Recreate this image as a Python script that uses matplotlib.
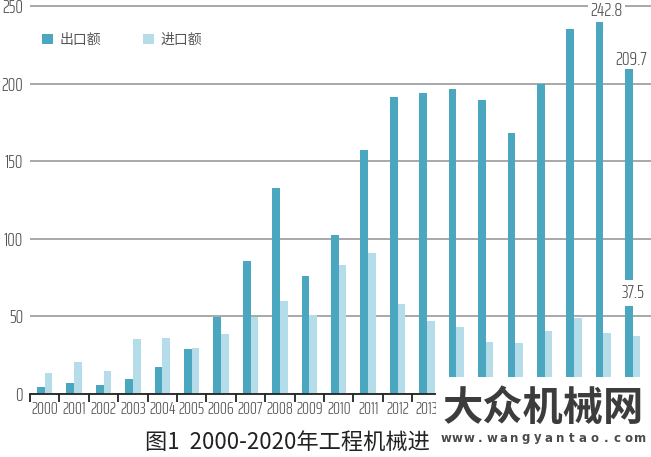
import matplotlib
matplotlib.use('Agg')
import matplotlib.pyplot as plt
from matplotlib.patches import Rectangle
import numpy as np

# data (100 million USD)
years = [str(y) for y in range(2000, 2021)]
export_vals = [4.3, 7.3, 6.0, 9.7, 17.6, 28.8, 49.8, 85.9, 132.7, 76.0, 102.7,
               157.2, 191.2, 194.1, 196.5, 189.6, 168.4, 199.7, 235.0, 242.8, 209.7]
import_vals = [13.3, 20.6, 15.0, 35.2, 36.3, 29.8, 38.7, 49.4, 59.9, 50.7, 82.9,
               90.6, 58.2, 46.8, 43.0, 33.5, 32.6, 40.6, 49.2, 39.5, 37.5]
yticks = [0, 50, 100, 150, 200, 250]
series_names = ['出口额', '进口额']
caption = '图1  2000-2020年工程机械进'
mark_title = '大众机械网'
mark_site = 'www.wangyantao.com'

num_font = ['Saira ExtraCondensed', 'Sofia Sans Extra Condensed', 'DejaVu Sans']
num_w = 300
cjk_font = ['Noto Sans CJK SC', 'DejaVu Sans']
c_exp = '#4aa7bf'
c_imp = '#b4dde9'

W, H = 651, 457
fig = plt.figure(figsize=(W / 100, H / 100), dpi=100)
ax = fig.add_axes([30 / W, 1 - 394 / H, (W - 30) / W, (394 - 2.9) / H])

x = np.arange(len(years))
bw = 0.26
ax.bar(x - 0.13, export_vals, bw, color=c_exp, label=series_names[0], zorder=2)
ax.bar(x + 0.13, import_vals, bw, color=c_imp, label=series_names[1], zorder=2)

ax.set_xlim(-0.5, 20.62)
ax.set_ylim(0, 252)

for s in ['left', 'right', 'top']:
    ax.spines[s].set_visible(False)
ax.spines['bottom'].set_color('#222222')
ax.spines['bottom'].set_linewidth(1.3)
ax.spines['bottom'].set_zorder(3)

ax.set_yticks(yticks)
ax.set_yticklabels([str(v) for v in yticks], family=num_font, fontweight=num_w,
                   fontsize=13.5, color='#555555')
ax.tick_params(axis='y', length=0, pad=5)
ax.yaxis.grid(True, color='#9a9a9a', linewidth=1.2)
ax.set_axisbelow(True)

# boundary ticks, labels at centres
ax.set_xticks(np.arange(-0.5, 21, 1))
ax.set_xticklabels([])
ax.tick_params(axis='x', which='major', length=6, width=1.3, color='#222222', direction='out')
ax.set_xticks(x, minor=True)
ax.set_xticklabels(years, minor=True, family=num_font, fontweight=num_w, fontsize=12.5,
                   color='#555555')
ax.tick_params(axis='x', which='minor', length=0, pad=5)
# the labels from 2014 on sit under the watermark box in the source image
for t in ax.get_xticklabels(minor=True)[14:]:
    t.set_visible(False)

# value labels
lab = dict(family=num_font, fontweight=num_w, fontsize=14, color='#555555',
           ha='center', va='center', zorder=5)
ax.text(19.1, 247.0, '242.8', bbox=dict(facecolor='white', edgecolor='none', pad=2), **lab)
ax.text(19.95, 215.5, '209.7', **lab)
ax.text(20.0, 65, '37.5', bbox=dict(facecolor='white', edgecolor='none', pad=3), **lab)

leg = ax.legend(loc='upper left', bbox_to_anchor=(42 / W, 1 - 33 / H), bbox_transform=fig.transFigure,
                ncol=2, frameon=False, handlelength=0.8, handleheight=0.8, handletextpad=0.45,
                columnspacing=3.0, borderpad=0, borderaxespad=0,
                prop={'family': cjk_font, 'size': 10})
for t in leg.get_texts():
    t.set_color('#555555')

fig.text(145 / W, 1 - 442 / H, caption, family=cjk_font, fontsize=16, color='#222222',
         ha='left', va='center')

# watermark overlay
fig.patches.append(Rectangle((436 / W, 0), 1 - 436 / W, (457 - 377) / H, transform=fig.transFigure,
                             facecolor='white', edgecolor='none', zorder=10))
fig.text(543 / W, 1 - 408 / H, mark_title, family=cjk_font, fontweight='bold', fontsize=29,
         color='#3c3c3c', ha='center', va='center', zorder=11)
step = 200 / (len(mark_site) - 1) * 0.97
for i, ch in enumerate(mark_site):
    fig.text((446 + i * step) / W, 1 - 438 / H, ch, family=['DejaVu Sans'], fontweight='bold',
             fontsize=8.5, color='#4a4a4a', ha='center', va='center', zorder=11)

fig.savefig('out.png', dpi=100)
